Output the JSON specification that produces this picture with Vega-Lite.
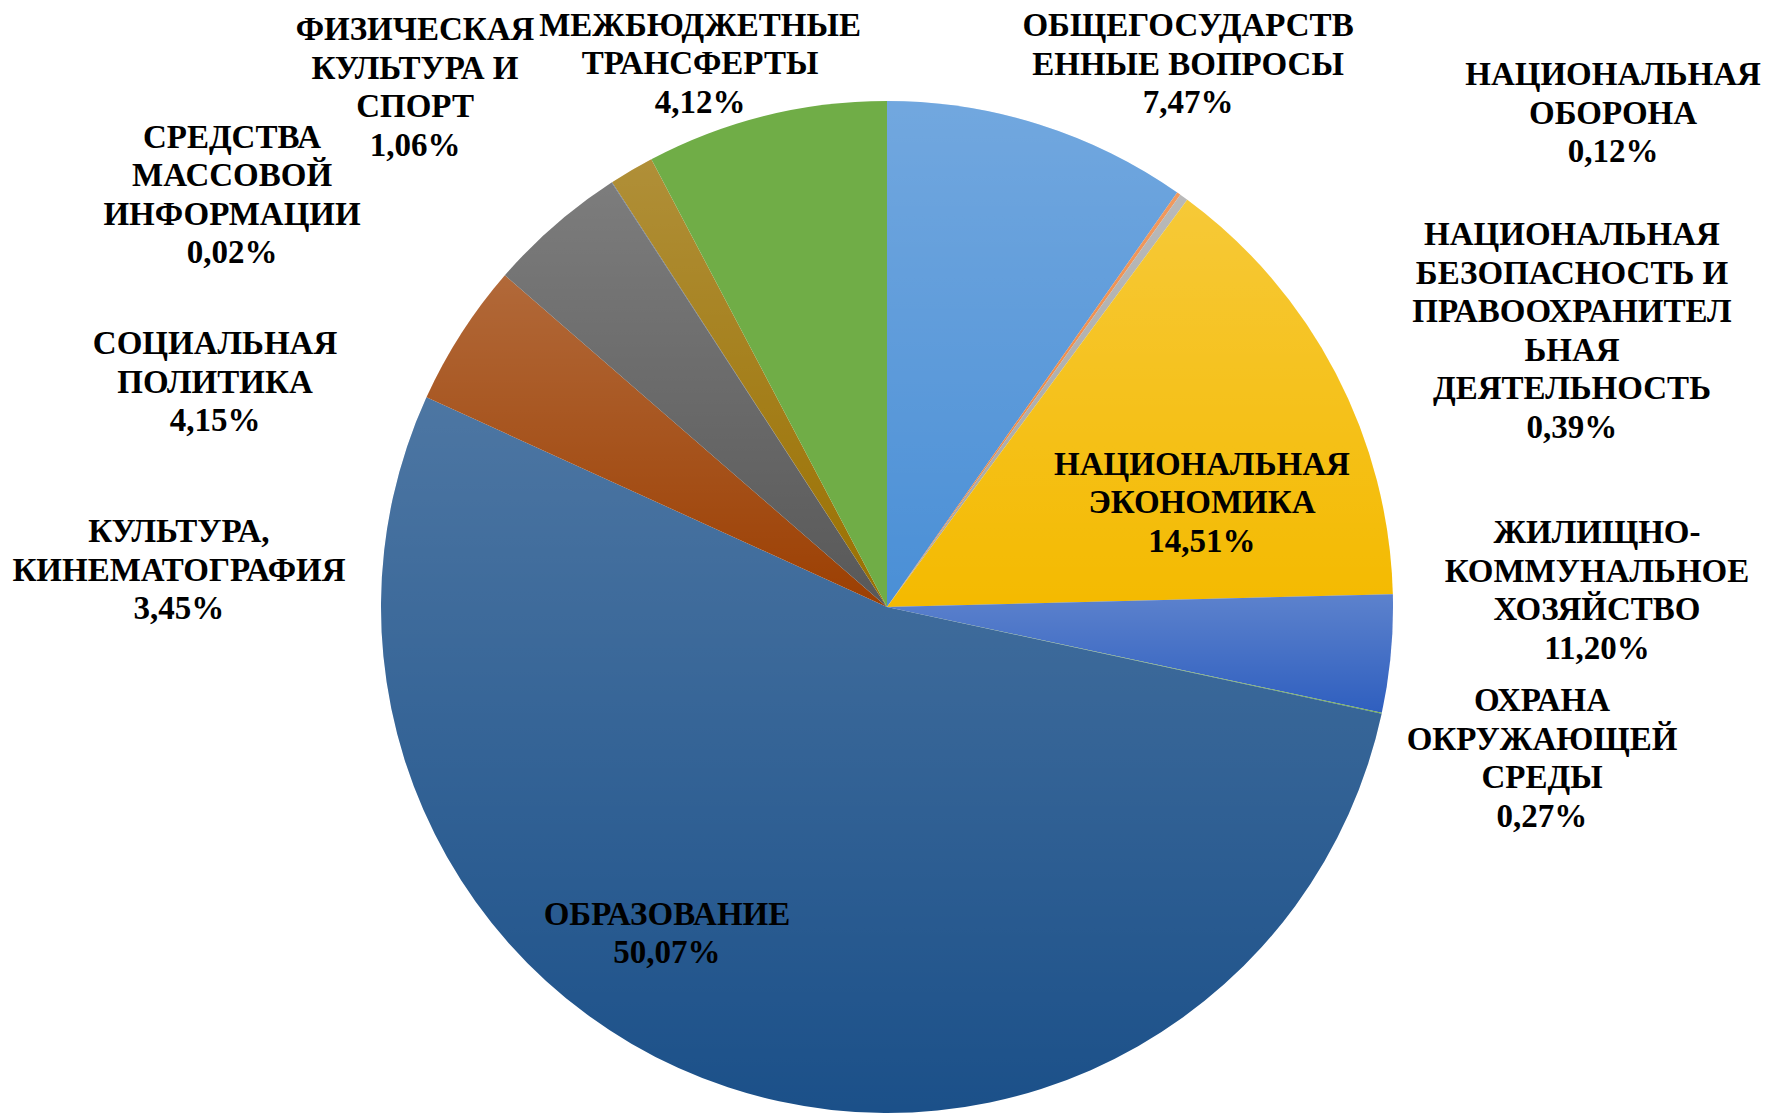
{
  "$schema": "https://vega.github.io/schema/vega-lite/v6.json",
  "width": 1760,
  "height": 1012,
  "autosize": {"type": "none"},
  "padding": {"left": 7, "top": 101, "right": 0, "bottom": 0},
  "background": "white",
  "config": {"view": {"stroke": null}},
  "data": {
    "values": [
      {"idx": 1, "category": "ОБЩЕГОСУДАРСТВЕННЫЕ ВОПРОСЫ", "value": 9.72, "label": "ОБЩЕГОСУДАРСТВ\nЕННЫЕ ВОПРОСЫ\n7,47%"},
      {"idx": 2, "category": "НАЦИОНАЛЬНАЯ ОБОРОНА", "value": 0.12, "label": "НАЦИОНАЛЬНАЯ\nОБОРОНА\n0,12%"},
      {"idx": 3, "category": "НАЦИОНАЛЬНАЯ БЕЗОПАСНОСТЬ И ПРАВООХРАНИТЕЛЬНАЯ ДЕЯТЕЛЬНОСТЬ", "value": 0.27, "label": "НАЦИОНАЛЬНАЯ\nБЕЗОПАСНОСТЬ И\nПРАВООХРАНИТЕЛ\nЬНАЯ\nДЕЯТЕЛЬНОСТЬ\n0,39%"},
      {"idx": 4, "category": "НАЦИОНАЛЬНАЯ ЭКОНОМИКА", "value": 14.49, "label": "НАЦИОНАЛЬНАЯ\nЭКОНОМИКА\n14,51%"},
      {"idx": 5, "category": "ЖИЛИЩНО-КОММУНАЛЬНОЕ ХОЗЯЙСТВО", "value": 3.75, "label": "ЖИЛИЩНО-\nКОММУНАЛЬНОЕ\nХОЗЯЙСТВО\n11,20%"},
      {"idx": 6, "category": "ОХРАНА ОКРУЖАЮЩЕЙ СРЕДЫ", "value": 0.03, "label": "ОХРАНА\nОКРУЖАЮЩЕЙ\nСРЕДЫ\n0,27%"},
      {"idx": 7, "category": "ОБРАЗОВАНИЕ", "value": 53.42, "label": "ОБРАЗОВАНИЕ\n50,07%"},
      {"idx": 8, "category": "КУЛЬТУРА, КИНЕМАТОГРАФИЯ", "value": 4.58, "label": "КУЛЬТУРА,\nКИНЕМАТОГРАФИЯ\n3,45%"},
      {"idx": 9, "category": "СОЦИАЛЬНАЯ ПОЛИТИКА", "value": 4.46, "label": "СОЦИАЛЬНАЯ\nПОЛИТИКА\n4,15%"},
      {"idx": 10, "category": "СРЕДСТВА МАССОВОЙ ИНФОРМАЦИИ", "value": 0.02, "label": "СРЕДСТВА\nМАССОВОЙ\nИНФОРМАЦИИ\n0,02%"},
      {"idx": 11, "category": "ФИЗИЧЕСКАЯ КУЛЬТУРА И СПОРТ", "value": 1.43, "label": "ФИЗИЧЕСКАЯ\nКУЛЬТУРА И\nСПОРТ\n1,06%"},
      {"idx": 12, "category": "МЕЖБЮДЖЕТНЫЕ ТРАНСФЕРТЫ", "value": 7.71, "label": "МЕЖБЮДЖЕТНЫЕ\nТРАНСФЕРТЫ\n4,12%"}
    ]
  },
  "layer": [
    {
      "mark": {"type": "arc", "outerRadius": 506},
      "encoding": {
        "theta": {"field": "value", "type": "quantitative", "stack": true},
        "order": {"field": "idx", "type": "quantitative"},
        "color": {
          "field": "category",
          "type": "nominal",
          "legend": null,
          "scale": {
            "domain": ["ОБЩЕГОСУДАРСТВЕННЫЕ ВОПРОСЫ", "НАЦИОНАЛЬНАЯ ОБОРОНА", "НАЦИОНАЛЬНАЯ БЕЗОПАСНОСТЬ И ПРАВООХРАНИТЕЛЬНАЯ ДЕЯТЕЛЬНОСТЬ", "НАЦИОНАЛЬНАЯ ЭКОНОМИКА", "ЖИЛИЩНО-КОММУНАЛЬНОЕ ХОЗЯЙСТВО", "ОХРАНА ОКРУЖАЮЩЕЙ СРЕДЫ", "ОБРАЗОВАНИЕ", "КУЛЬТУРА, КИНЕМАТОГРАФИЯ", "СОЦИАЛЬНАЯ ПОЛИТИКА", "СРЕДСТВА МАССОВОЙ ИНФОРМАЦИИ", "ФИЗИЧЕСКАЯ КУЛЬТУРА И СПОРТ", "МЕЖБЮДЖЕТНЫЕ ТРАНСФЕРТЫ"],
            "range": ["#4a8fd6", "#ED7D31", "#A5A5A5", "#F4BA00", "#2F5FBF", "#70AD47", "#1B5089", "#9C3F02", "#585858", "#264478", "#9A7000", "#70AD47"]
          }
        }
      }
    },
    {
      "mark": {
        "type": "arc",
        "outerRadius": 506,
        "fill": {
          "gradient": "linear", "x1": 0, "y1": 0, "x2": 0, "y2": 1,
          "stops": [
            {"offset": 0, "color": "rgba(255,255,255,0.22)"},
            {"offset": 1, "color": "rgba(255,255,255,0)"}
          ]
        }
      },
      "encoding": {
        "theta": {"field": "value", "type": "quantitative", "stack": true},
        "order": {"field": "idx", "type": "quantitative"},
        "detail": {"field": "category", "type": "nominal"},
        "fillOpacity": {"condition": {"test": "datum.category === 'МЕЖБЮДЖЕТНЫЕ ТРАНСФЕРТЫ'", "value": 0}, "value": 1}
      }
    },
    {
      "mark": {
        "type": "text",
        "font": "Liberation Serif",
        "fontWeight": "bold",
        "fontSize": 33,
        "lineHeight": 38.5,
        "lineBreak": "\n",
        "align": "center",
        "baseline": "middle",
        "color": "black"
      },
      "encoding": {
        "theta": {
          "field": "value", "type": "quantitative", "stack": true,
          "scale": {
            "nice": false,
            "domain": [0, 4.86, 9.78, 9.975, 17.355, 26.475, 28.365, 55.09, 84.09, 88.61, 90.85, 91.575, 96.145, 100],
            "range": [0, 0.4781, 0.9385, 1.0737, 1.1472, 1.4670, 1.7134, 3.7619, 4.8179, 5.0854, 5.3339, 5.5972, 5.9721, 6.2832]
          }
        },
        "radius": {
          "field": "value", "type": "quantitative",
          "scale": {
            "type": "linear", "zero": false, "nice": false,
            "domain": [0.02, 0.03, 0.12, 0.27, 1.43, 3.75, 4.46, 4.58, 7.71, 9.72, 14.49, 53.42],
            "range": [805.6, 661.7, 900.1, 779.3, 745.1, 713.8, 721.6, 712.0, 610.8, 654.3, 345.5, 378.5]
          }
        },
        "order": {"field": "idx", "type": "quantitative"},
        "detail": {"field": "category", "type": "nominal"},
        "text": {"field": "label", "type": "nominal"}
      }
    }
  ],
  "resolve": {"scale": {"theta": "independent", "radius": "independent"}}
}
